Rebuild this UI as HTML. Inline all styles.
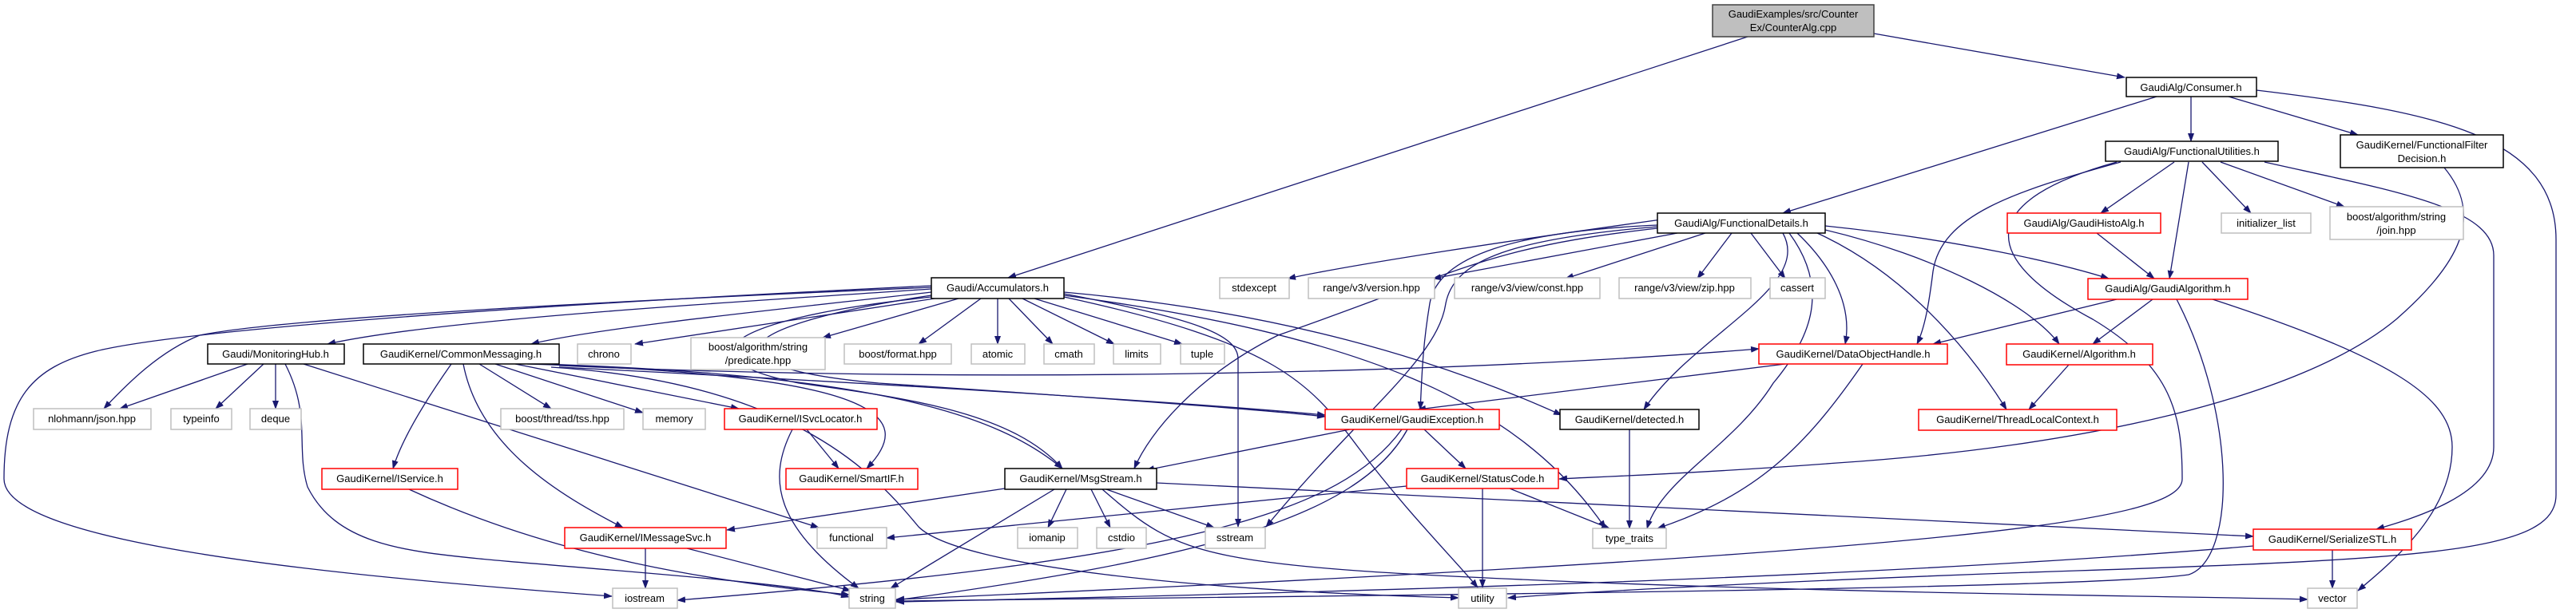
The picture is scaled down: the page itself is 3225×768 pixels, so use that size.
<!DOCTYPE html>
<html><head><meta charset="utf-8"><style>
html,body{margin:0;padding:0;background:#fff;}
svg{display:block;}
text{font-family:"Liberation Sans",sans-serif;font-size:13px;fill:#000;text-anchor:middle;}
.e{fill:none;stroke:#191970;stroke-width:1.3;marker-end:url(#a);}
.g{fill:#fff;stroke:#bfbfbf;stroke-width:1.5;}
.b{fill:#fff;stroke:#000;stroke-width:1.5;}
.r{fill:#fff;stroke:#ff0000;stroke-width:1.5;}
</style></head><body>
<svg width="3225" height="768" viewBox="0 0 3225 768" xmlns="http://www.w3.org/2000/svg">
<defs><marker id="a" markerWidth="11" markerHeight="8" refX="10" refY="4" orient="auto" markerUnits="userSpaceOnUse"><path d="M0,0 L11,4 L0,8 z" fill="#191970"/></marker></defs>
<g>
<!-- root -->
<path class="e" d="M2188,46 L1262,348"/>
<path class="e" d="M2346,42 L2660,97"/>
<!-- Consumer -->
<path class="e" d="M2700,121 L2232,267"/>
<path class="e" d="M2743,121 L2743,177"/>
<path class="e" d="M2790,121 L2952,169"/>
<path class="e" d="M2825,113 C3050,140 3200,170 3200,300 L3200,620 C3200,690 3050,700 2600,715 C2300,725 2000,740 1888,749"/>
<!-- FunctionalUtilities -->
<path class="e" d="M2722,203 L2630,267"/>
<path class="e" d="M2740,203 L2716,349"/>
<path class="e" d="M2757,203 L2818,267"/>
<path class="e" d="M2780,203 L2935,259"/>
<path class="e" d="M2835,203 C3000,240 3122,260 3122,320 L3122,560 C3122,620 3020,650 2975,663"/>
<path class="e" d="M2655,203 C2520,240 2430,270 2420,340 C2415,380 2410,410 2400,431"/>
<path class="e" d="M2650,203 C2480,250 2470,320 2620,400 C2720,460 2732,520 2732,600 C2732,650 2500,690 1122,751"/>
<!-- FilterDecision -->
<path class="e" d="M3060,210 C3110,270 3080,330 3000,400 C2880,500 2600,560 2300,580 C2100,595 1980,598 1952,600"/>
<!-- FunctionalDetails -->
<path class="e" d="M2080,275 C1900,300 1700,330 1612,349"/>
<path class="e" d="M2100,292 L1794,349"/>
<path class="e" d="M2135,292 L1960,349"/>
<path class="e" d="M2168,292 L2125,349"/>
<path class="e" d="M2192,292 L2235,349"/>
<path class="e" d="M2285,283 C2450,300 2580,330 2640,349"/>
<path class="e" d="M2285,288 C2420,320 2540,380 2578,431"/>
<path class="e" d="M2275,292 C2380,340 2460,430 2512,513"/>
<path class="e" d="M2250,292 C2290,330 2320,380 2310,431"/>
<path class="e" d="M2232,292 C2270,360 2120,420 2058,513"/>
<path class="e" d="M2240,292 C2290,360 2270,420 2220,480 C2170,560 2080,600 2062,662"/>
<path class="e" d="M2075,282 C1900,290 1800,320 1790,380 C1780,440 1780,480 1778,513"/>
<path class="e" d="M2075,284 C1880,300 1820,330 1810,380 C1800,450 1700,520 1585,660"/>
<path class="e" d="M2075,286 C1860,310 1830,340 1600,420 C1500,470 1440,540 1420,587"/>
<!-- Accumulators -->
<path class="e" d="M1166,362 C900,380 550,400 410,431"/>
<path class="e" d="M1166,366 C1000,385 750,410 665,431"/>
<path class="e" d="M1170,374 L795,431"/>
<path class="e" d="M1200,374 L1030,423"/>
<path class="e" d="M1228,374 L1150,431"/>
<path class="e" d="M1249,374 L1249,431"/>
<path class="e" d="M1263,374 L1318,431"/>
<path class="e" d="M1280,374 L1395,431"/>
<path class="e" d="M1295,374 L1480,431"/>
<path class="e" d="M1166,360 C700,380 350,400 250,420 C200,440 160,480 130,512"/>
<path class="e" d="M1166,358 C500,390 200,420 120,440 C40,460 5,500 5,600 C5,680 400,720 766,747"/>
<path class="e" d="M1332,368 C1500,400 1550,420 1550,450 L1550,660"/>
<path class="e" d="M1332,372 C1600,430 1640,480 1700,560 C1760,640 1820,700 1850,736"/>
<path class="e" d="M1332,370 C1700,420 1900,500 2010,662"/>
<path class="e" d="M1332,366 C1600,390 1800,450 1955,520"/>
<path class="e" d="M1166,372 C900,400 850,450 1000,480 C1150,500 1270,520 1330,587"/>
<path class="e" d="M1166,370 C900,410 880,460 1100,480 C1400,500 1600,515 1659,522"/>
<!-- CommonMessaging -->
<path class="e" d="M565,456 C520,520 500,560 492,587"/>
<path class="e" d="M580,456 C600,560 700,620 780,661"/>
<path class="e" d="M600,456 L690,512"/>
<path class="e" d="M620,456 L805,517"/>
<path class="e" d="M645,456 L925,512"/>
<path class="e" d="M660,456 C1100,470 1150,520 1085,587"/>
<path class="e" d="M680,456 C1100,470 1250,520 1330,587"/>
<path class="e" d="M700,460 C1100,480 1500,505 1659,520"/>
<path class="e" d="M700,458 C1200,480 1800,470 2202,437"/>
<path class="e" d="M690,460 C1000,480 1100,600 1150,660 C1200,710 1500,740 1826,749"/>
<!-- MonitoringHub -->
<path class="e" d="M310,456 L150,512"/>
<path class="e" d="M330,456 L270,512"/>
<path class="e" d="M345,456 L345,512"/>
<path class="e" d="M380,456 L1025,661"/>
<path class="e" d="M357,456 C390,520 370,560 385,610 C420,680 500,690 600,700 C700,710 1000,730 1063,748"/>
<!-- IService, ISvcLocator, IMessageSvc -->
<path class="e" d="M512,613 C700,700 900,730 1063,745"/>
<path class="e" d="M1010,538 L1050,587"/>
<path class="e" d="M992,538 C960,600 970,660 1075,737"/>
<path class="e" d="M808,687 L808,737"/>
<path class="e" d="M860,687 L1065,740"/>
<!-- MsgStream -->
<path class="e" d="M1258,612 L910,664"/>
<path class="e" d="M1320,613 L1115,737"/>
<path class="e" d="M1335,613 L1312,661"/>
<path class="e" d="M1366,613 L1390,661"/>
<path class="e" d="M1385,613 L1520,661"/>
<path class="e" d="M1448,605 L2821,672"/>
<path class="e" d="M1380,613 C1480,700 1500,710 2000,730 C2400,745 2800,748 2889,751"/>
<!-- GaudiException -->
<path class="e" d="M1783,538 L1835,587"/>
<path class="e" d="M1690,538 L1435,589"/>
<path class="e" d="M1762,538 C1700,650 1500,700 1122,752"/>
<path class="e" d="M1755,538 C1680,640 1500,700 848,752"/>
<!-- StatusCode -->
<path class="e" d="M1856,612 L1856,736"/>
<path class="e" d="M1890,612 L2015,662"/>
<path class="e" d="M1761,609 L1110,674"/>
<!-- detected, DOH -->
<path class="e" d="M2040,538 L2040,662"/>
<path class="e" d="M2235,456 L1775,513"/>
<path class="e" d="M2332,456 C2260,560 2200,620 2075,662"/>
<!-- GaudiAlgorithm -->
<path class="e" d="M2650,375 L2420,431"/>
<path class="e" d="M2695,375 L2620,431"/>
<path class="e" d="M2725,375 C2800,520 2800,700 2740,720 C2600,740 1500,748 1122,753"/>
<path class="e" d="M2770,375 C3000,450 3070,500 3070,560 C3070,640 3000,700 2952,740"/>
<path class="e" d="M2625,292 L2697,349"/>
<path class="e" d="M2590,457 L2540,513"/>
<!-- SerializeSTL -->
<path class="e" d="M2920,689 L2920,737"/>
<path class="e" d="M2821,684 C2400,720 1800,740 1122,754"/>
</g>
<g>
<rect x="2144" y="6" width="202" height="40" fill="#bfbfbf" stroke="#404040" stroke-width="1.5"/>
<text x="2245" y="22">GaudiExamples/src/Counter</text><text x="2245" y="39">Ex/CounterAlg.cpp</text>

<rect class="b" x="2662" y="97" width="163" height="24"/><text x="2743" y="114">GaudiAlg/Consumer.h</text>
<rect class="b" x="2636" y="177" width="216" height="25"/><text x="2744" y="194">GaudiAlg/FunctionalUtilities.h</text>
<rect class="b" x="2930" y="169" width="204" height="41"/><text x="3032" y="186">GaudiKernel/FunctionalFilter</text><text x="3032" y="203">Decision.h</text>
<rect class="b" x="2075" y="267" width="210" height="25"/><text x="2180" y="284">GaudiAlg/FunctionalDetails.h</text>
<rect class="r" x="2513" y="267" width="192" height="25"/><text x="2609" y="284">GaudiAlg/GaudiHistoAlg.h</text>
<rect class="g" x="2781" y="267" width="112" height="25"/><text x="2837" y="284">initializer_list</text>
<rect class="g" x="2917" y="259" width="167" height="41"/><text x="3000" y="276">boost/algorithm/string</text><text x="3000" y="293">/join.hpp</text>
<rect class="r" x="2614" y="349" width="200" height="26"/><text x="2714" y="366">GaudiAlg/GaudiAlgorithm.h</text>

<rect class="b" x="1166" y="348" width="166" height="26"/><text x="1249" y="365">Gaudi/Accumulators.h</text>
<rect class="g" x="1527" y="348" width="87" height="26"/><text x="1570" y="365">stdexcept</text>
<rect class="g" x="1638" y="348" width="158" height="26"/><text x="1717" y="365">range/v3/version.hpp</text>
<rect class="g" x="1821" y="348" width="182" height="26"/><text x="1912" y="365">range/v3/view/const.hpp</text>
<rect class="g" x="2027" y="348" width="165" height="26"/><text x="2109" y="365">range/v3/view/zip.hpp</text>
<rect class="g" x="2216" y="348" width="69" height="26"/><text x="2250" y="365">cassert</text>

<rect class="g" x="865" y="423" width="168" height="40"/><text x="949" y="439">boost/algorithm/string</text><text x="949" y="456">/predicate.hpp</text>
<rect class="g" x="1057" y="431" width="134" height="25"/><text x="1124" y="448">boost/format.hpp</text>
<rect class="g" x="1216" y="431" width="67" height="25"/><text x="1249" y="448">atomic</text>
<rect class="g" x="1307" y="431" width="63" height="25"/><text x="1338" y="448">cmath</text>
<rect class="g" x="1394" y="431" width="59" height="25"/><text x="1423" y="448">limits</text>
<rect class="g" x="1478" y="431" width="55" height="25"/><text x="1505" y="448">tuple</text>
<rect class="b" x="260" y="431" width="171" height="25"/><text x="345" y="448">Gaudi/MonitoringHub.h</text>
<rect class="b" x="455" y="431" width="245" height="25"/><text x="577" y="448">GaudiKernel/CommonMessaging.h</text>
<rect class="g" x="723" y="431" width="67" height="25"/><text x="756" y="448">chrono</text>
<rect class="r" x="2202" y="431" width="236" height="25"/><text x="2320" y="448">GaudiKernel/DataObjectHandle.h</text>
<rect class="r" x="2512" y="431" width="183" height="26"/><text x="2603" y="448">GaudiKernel/Algorithm.h</text>

<rect class="g" x="42" y="512" width="147" height="26"/><text x="115" y="529">nlohmann/json.hpp</text>
<rect class="g" x="214" y="512" width="76" height="26"/><text x="252" y="529">typeinfo</text>
<rect class="g" x="313" y="512" width="64" height="26"/><text x="345" y="529">deque</text>
<rect class="g" x="627" y="512" width="154" height="26"/><text x="704" y="529">boost/thread/tss.hpp</text>
<rect class="g" x="805" y="512" width="78" height="26"/><text x="844" y="529">memory</text>
<rect class="r" x="907" y="512" width="191" height="26"/><text x="1002" y="529">GaudiKernel/ISvcLocator.h</text>
<rect class="r" x="1659" y="513" width="218" height="25"/><text x="1768" y="530">GaudiKernel/GaudiException.h</text>
<rect class="b" x="1953" y="513" width="174" height="25"/><text x="2040" y="530">GaudiKernel/detected.h</text>
<rect class="r" x="2402" y="513" width="248" height="26"/><text x="2526" y="530">GaudiKernel/ThreadLocalContext.h</text>

<rect class="r" x="403" y="587" width="170" height="26"/><text x="488" y="604">GaudiKernel/IService.h</text>
<rect class="r" x="984" y="587" width="165" height="26"/><text x="1066" y="604">GaudiKernel/SmartIF.h</text>
<rect class="b" x="1258" y="587" width="190" height="26"/><text x="1353" y="604">GaudiKernel/MsgStream.h</text>
<rect class="r" x="1761" y="587" width="190" height="25"/><text x="1856" y="604">GaudiKernel/StatusCode.h</text>

<rect class="r" x="707" y="661" width="202" height="26"/><text x="808" y="678">GaudiKernel/IMessageSvc.h</text>
<rect class="g" x="1023" y="661" width="87" height="26"/><text x="1066" y="678">functional</text>
<rect class="g" x="1274" y="661" width="75" height="26"/><text x="1311" y="678">iomanip</text>
<rect class="g" x="1373" y="661" width="62" height="26"/><text x="1404" y="678">cstdio</text>
<rect class="g" x="1509" y="661" width="75" height="26"/><text x="1546" y="678">sstream</text>
<rect class="g" x="1994" y="662" width="92" height="25"/><text x="2040" y="679">type_traits</text>
<rect class="r" x="2821" y="663" width="198" height="26"/><text x="2920" y="680">GaudiKernel/SerializeSTL.h</text>

<rect class="g" x="767" y="737" width="81" height="25"/><text x="807" y="754">iostream</text>
<rect class="g" x="1063" y="737" width="58" height="25"/><text x="1092" y="754">string</text>
<rect class="g" x="1826" y="737" width="60" height="25"/><text x="1856" y="754">utility</text>
<rect class="g" x="2889" y="737" width="62" height="25"/><text x="2920" y="754">vector</text>
</g>
</svg>
</body></html>
